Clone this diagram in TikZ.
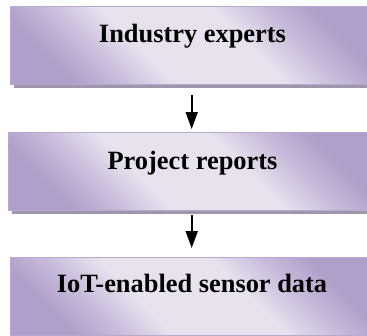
\documentclass[tikz,border=0pt]{standalone}
\usepackage{fontspec}
\setmainfont{Liberation Serif}
\usetikzlibrary{arrows.meta}
\definecolor{dk}{HTML}{B09FCA}
\definecolor{md}{HTML}{CABDDB}
\definecolor{lt}{HTML}{E8E2EF}
\definecolor{edge}{HTML}{B8A9CF}
\definecolor{shadowc}{HTML}{9E96AA}
\pgfdeclareverticalshading{boxshade}{100bp}{color(0bp)=(dk); color(25bp)=(dk); color(33bp)=(md); color(41bp)=(lt); color(59bp)=(lt); color(67bp)=(md); color(75bp)=(dk); color(100bp)=(dk)}
\tikzset{
  boxfill/.style={shading=boxshade, shading angle=-45, draw=edge, line width=0.8pt},
  boxshadow/.style={fill=shadowc},
  lbl/.style={font=\fontsize{26.4}{30}\selectfont\bfseries, anchor=base, inner sep=0pt},
  arr/.style={line width=1.8pt, -{Triangle[width=12pt,length=17pt]}}
}
\begin{document}
\begin{tikzpicture}[x=1pt,y=-1pt]
\useasboundingbox (0,0) rectangle (367,335);
\begin{scope}
\clip (0,0) rectangle (367,335);
% box 1
\fill[boxshadow] (14,10) rectangle (378,88);
\path[boxfill] (10,6) rectangle (374,84);
% box 2
\fill[boxshadow] (12,136) rectangle (376,214);
\path[boxfill] (8,132) rectangle (372,210);
% box 3
\fill[boxshadow] (14,261) rectangle (378,339);
\path[boxfill] (10,257) rectangle (374,335.5);
\end{scope}
\node[lbl] (t1) at (192.5,42) {Industry experts};
\node[lbl] (t2) at (192.5,169) {Project reports};
\node[lbl] (t3) at (192,292.5) {IoT-enabled sensor data};
\coordinate (a1s) at (191.7,95);
\coordinate (a1e) at (191.7,129);
\coordinate (a2s) at (191.7,215);
\coordinate (a2e) at (191.7,248);
\draw[arr] (a1s) -- (a1e);
\draw[arr] (a2s) -- (a2e);
\end{tikzpicture}
\end{document}
